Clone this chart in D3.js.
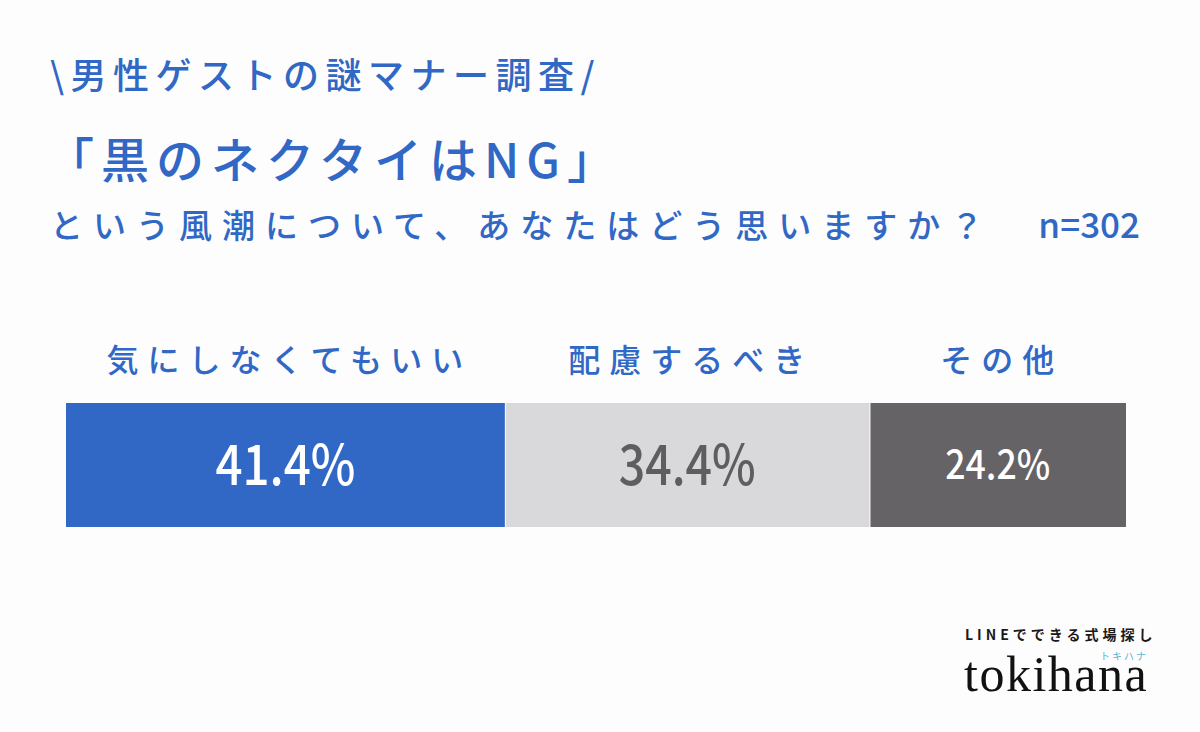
<!DOCTYPE html>
<html>
<head>
<meta charset="utf-8">
<style>
    body { margin: 0; background: #fdfdfd; }
    svg { display: block; }
    text { font-family: "Noto Sans CJK JP", "Noto Sans", sans-serif; }
</style>
</head>
<body>
    <div class="graph"></div>

    <script src="https://d3js.org/d3.v7.min.js"></script>
    <script>
        var categories = ['気にしなくてもいい', '配慮するべき', 'その他']
        var values = [41.4, 34.4, 24.2]
        var valueLabels = ['41.4%', '34.4%', '24.2%']
        var sampleSize = 302

        var width = 1200,
            height = 732

        var fills = ['#3168c5', '#d9d8db', '#656366']
        var valueColors = ['#ffffff', '#5e5d60', '#ffffff']
        var valueSizes = [56, 56, 40]
        var valueWidths = [140, 137, 105]
        var blue = '#3168c5'

        var svg = d3.select('.graph').append('svg')
            .attr('width', width)
            .attr('height', height)

        svg.append('rect')
            .attr('width', width)
            .attr('height', height)
            .attr('fill', '#fdfdfd')

        // titles
        svg.append('text')
            .attr('x', 50).attr('y', 89)
            .attr('fill', blue)
            .attr('font-size', 36)
            .attr('font-weight', 500)
            .attr('letter-spacing', 6.5)
            .text('\\男性ゲストの謎マナー調査/')

        svg.append('text')
            .attr('x', 46).attr('y', 178)
            .attr('fill', blue)
            .attr('font-size', 48)
            .attr('font-weight', 500)
            .attr('letter-spacing', 7)
            .text('「黒のネクタイはNG」')

        svg.append('text')
            .attr('x', 50).attr('y', 238)
            .attr('fill', blue)
            .attr('font-size', 33)
            .attr('font-weight', 500)
            .attr('letter-spacing', 10)
            .text('という風潮について、あなたはどう思いますか？')

        svg.append('text')
            .attr('x', 1140).attr('y', 238)
            .attr('text-anchor', 'end')
            .attr('fill', blue)
            .attr('font-size', 35)
            .attr('font-weight', 500)
            .text('n=' + sampleSize)

        // stacked bar
        var x = d3.scaleLinear()
            .domain([0, d3.sum(values)])
            .range([66, 1126])

        var starts = values.map(function (d, i) {
            return d3.sum(values.slice(0, i))
        })

        var barTop = 403,
            barH = 124

        var seg = svg.append('g').selectAll('g')
            .data(values)
            .enter().append('g')

        seg.append('rect')
            .attr('x', function (d, i) { return x(starts[i]) + (i > 0 ? 1 : 0) })
            .attr('y', barTop)
            .attr('width', function (d, i) { return x(starts[i] + d) - x(starts[i]) - (i > 0 ? 1 : 0) })
            .attr('height', barH)
            .attr('fill', function (d, i) { return fills[i] })

        seg.append('text')
            .attr('x', function (d, i) { return (x(starts[i]) + x(starts[i] + d)) / 2 })
            .attr('y', function (d, i) { return barTop + barH / 2 + valueSizes[i] * 0.36 })
            .attr('text-anchor', 'middle')
            .attr('fill', function (d, i) { return valueColors[i] })
            .attr('font-size', function (d, i) { return valueSizes[i] })
            .attr('font-weight', 500)
            .attr('textLength', function (d, i) { return valueWidths[i] })
            .attr('lengthAdjust', 'spacingAndGlyphs')
            .text(function (d, i) { return valueLabels[i] })

        seg.append('text')
            .attr('x', function (d, i) { return (x(starts[i]) + x(starts[i] + d)) / 2 + 4 })
            .attr('y', 372)
            .attr('text-anchor', 'middle')
            .attr('fill', blue)
            .attr('font-size', 32)
            .attr('font-weight', 500)
            .attr('letter-spacing', 9)
            .text(function (d, i) { return categories[i] })

        // logo
        svg.append('text')
            .attr('x', 965).attr('y', 640)
            .attr('fill', '#1a1a1a')
            .attr('font-size', 14)
            .attr('font-weight', 700)
            .attr('letter-spacing', 4)
            .text('LINEでできる式場探し')

        svg.append('text')
            .attr('x', 1100).attr('y', 660)
            .attr('fill', '#5fb2d6')
            .attr('font-size', 10)
            .attr('letter-spacing', 2)
            .text('トキハナ')

        svg.append('text')
            .attr('x', 964).attr('y', 691)
            .attr('fill', '#111')
            .style('font-family', '"Liberation Serif", "DejaVu Serif", serif')
            .attr('font-size', 50)
            .attr('letter-spacing', 1.5)
            .text('tokihana')
    </script>
</body>
</html>
